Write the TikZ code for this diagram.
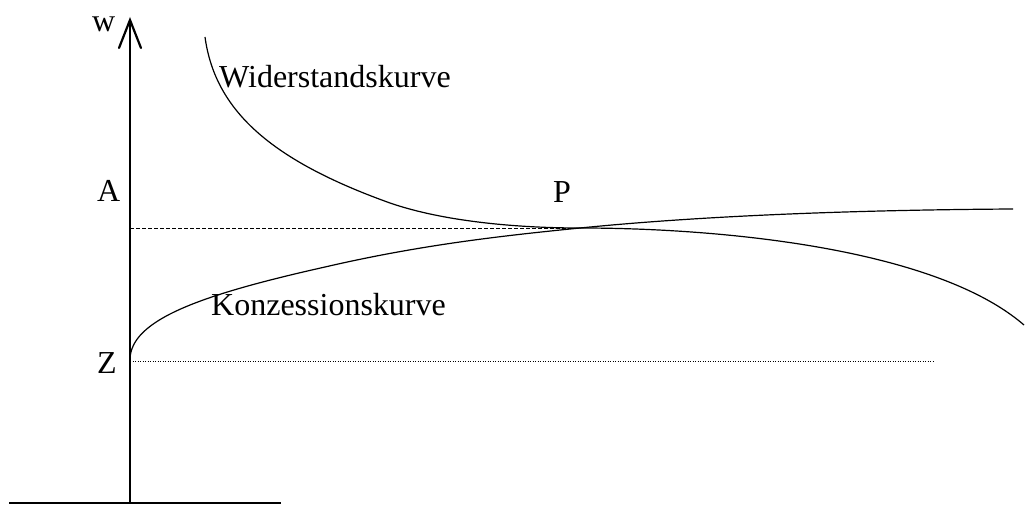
\documentclass[tikz,border=0pt]{standalone}
\usepackage{fontspec}
\setmainfont{Liberation Serif}
\begin{document}
\begin{tikzpicture}[x=1pt,y=-1pt,
  lbl/.style={anchor=base west,inner sep=0pt,font=\fontsize{32}{38}\selectfont},
  curve/.style={line width=1.2pt},
  axisline/.style={line width=2.2pt},
  dashline/.style={line width=0.9pt,dash pattern=on 4pt off 2pt},
  dotline/.style={line width=0.9pt,dash pattern=on 1pt off 1.5pt}]
\useasboundingbox (0,0) rectangle (1025,505);
% coordinates
\coordinate (O) at (130,503);
\coordinate (T) at (130,20);
\coordinate (B1) at (119,48);
\coordinate (B2) at (141,48);
\coordinate (L0) at (9,503);
\coordinate (L1) at (281,503);
\coordinate (Ay) at (130,228);
\coordinate (P) at (580,228);
\coordinate (Zy) at (130,361);
\coordinate (Ze) at (935,361);
\coordinate (Ks) at (130,360);
\coordinate (K1) at (325,267);
\coordinate (Ke) at (1013,209);
\coordinate (Ws) at (205,37);
\coordinate (W1) at (390,203);
\coordinate (We) at (1024,325);
% axes
\draw[axisline] (O) -- (T);
\draw[axisline,line cap=round] (B1) -- (T) -- (B2);
\draw[axisline] (L0) -- (L1);
% guide lines
\draw[dashline] (Ay) -- (P);
\draw[dotline] (Zy) -- (Ze);
% Konzessionskurve
\draw[curve] (Ks) .. controls (130,320) and (200,295) .. (K1)
  .. controls (420,245) and (500,236) .. (P)
  .. controls (700,216) and (850,210) .. (Ke);
% Widerstandskurve
\draw[curve] (Ws) .. controls (215,110) and (270,160) .. (W1)
  .. controls (445,222) and (520,228) .. (P)
  .. controls (720,228) and (935,248) .. (We);
% labels
\node[lbl] (w) at (92,32) {w};
\node[lbl] (A) at (97,202) {A};
\node[lbl] (Z) at (97,373) {Z};
\node[lbl] (Pl) at (553,203) {P};
\node[lbl] (Wk) at (219,88) {Widerstandskurve};
\node[lbl] (Kk) at (211,315) {Konzessionskurve};
\end{tikzpicture}
\end{document}
